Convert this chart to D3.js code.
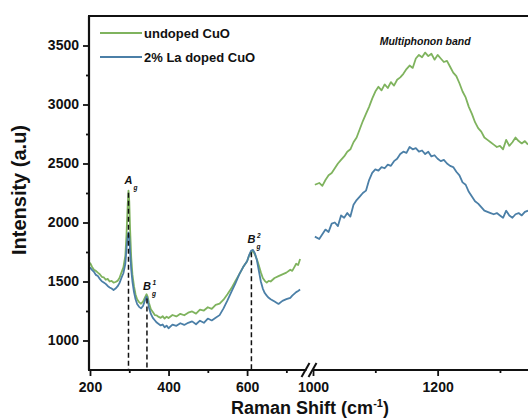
<!DOCTYPE html>
<html>
<head>
<meta charset="utf-8">
<script src="https://cdn.jsdelivr.net/npm/d3@7"></script>
<style>
  body { margin: 0; background: #fff; }
  svg text { font-family: "Liberation Sans", Arial, sans-serif; font-weight: bold; fill: #111; }
</style>
</head>
<body>
<div id="overview"></div>
<script>

// Raman shift (cm-1), part before the axis break
const leftShift = [
  200, 205, 210, 215, 220, 225, 230, 235, 240, 245,
  250, 255, 260, 265, 270, 275, 280, 285, 290, 293,
  296, 298, 300, 302, 305, 308, 312, 316, 320, 325,
  330, 335, 340, 344, 347, 350, 355, 360, 365, 370,
  375, 380, 385, 390, 395, 400, 410, 420, 430, 440,
  450, 460, 470, 480, 490, 500, 510, 520, 530, 540,
  550, 560, 570, 580, 590, 600, 605, 610, 615, 620,
  625, 630, 635, 640, 645, 650, 655, 660, 670, 680,
  690, 700, 710, 715, 720, 725, 730, 735
];
const undopedLeft = [
  1660, 1625, 1600, 1590, 1575, 1562, 1540, 1536, 1515, 1522,
  1500, 1506, 1490, 1496, 1505, 1530, 1575, 1620, 1720, 1900,
  2150, 2270, 2180, 1950, 1700, 1560, 1460, 1390, 1350, 1325,
  1312, 1330, 1365, 1392, 1370, 1320, 1265, 1242, 1216, 1212,
  1200, 1192, 1206, 1186, 1202, 1190, 1216, 1204, 1226, 1214,
  1236, 1246, 1228, 1262, 1254, 1282, 1268, 1302, 1312, 1346,
  1392, 1442, 1502, 1560, 1622, 1672, 1718, 1750, 1758, 1728,
  1688, 1636, 1578, 1530, 1506, 1490, 1505, 1500, 1530, 1545,
  1560, 1575, 1600, 1590, 1620, 1650, 1640, 1690
];
const dopedLeft = [
  1620, 1598, 1582, 1556, 1546, 1522, 1502, 1492, 1480, 1462,
  1450, 1440, 1428, 1440, 1458, 1486, 1530, 1570, 1650, 1780,
  1880, 1915, 1880, 1760, 1600, 1500, 1410, 1350, 1310, 1285,
  1272, 1292, 1340, 1372, 1345, 1280, 1225, 1192, 1172, 1152,
  1140, 1128, 1136, 1112, 1126, 1104, 1134, 1124, 1146, 1132,
  1150, 1162, 1138, 1168, 1150, 1186, 1170, 1192, 1215, 1272,
  1340, 1412, 1482, 1560, 1622, 1672, 1722, 1760, 1768, 1738,
  1680, 1590, 1500, 1440, 1402, 1380, 1362, 1350, 1330, 1310,
  1336, 1350, 1362, 1380, 1395, 1410, 1420, 1432
];

// Raman shift (cm-1), part after the axis break
const rightShift = [
  1003, 1010, 1015, 1020, 1025, 1030, 1035, 1040, 1045, 1050,
  1055, 1060, 1065, 1070, 1075, 1080, 1085, 1090, 1095, 1100,
  1105, 1110, 1115, 1120, 1125, 1130, 1135, 1140, 1145, 1150,
  1155, 1160, 1165, 1170, 1175, 1180, 1185, 1190, 1195, 1200,
  1205, 1210, 1215, 1220, 1225, 1230, 1235, 1240, 1245, 1250,
  1255, 1260, 1265, 1270, 1275, 1280, 1285, 1290, 1295, 1300,
  1305, 1310, 1315, 1320, 1325, 1330, 1335, 1340, 1345
];
const undopedRight = [
  2320, 2335, 2310, 2360, 2400, 2420, 2460, 2500, 2530, 2560,
  2600, 2620, 2680, 2720, 2790, 2860, 2920, 2980, 3050, 3110,
  3150, 3120, 3170, 3140, 3190, 3160, 3210, 3230, 3260, 3300,
  3330, 3310, 3390, 3420, 3400, 3440, 3410, 3430, 3380, 3420,
  3390, 3360, 3370, 3320, 3270, 3240, 3180, 3110, 3060, 2980,
  2920, 2850, 2800, 2770, 2720, 2700, 2680, 2660, 2640, 2650,
  2620, 2700, 2650, 2680, 2720, 2690, 2670, 2690, 2660
];
const dopedRight = [
  1880, 1860, 1900, 1940, 1920, 1990, 2000, 1970, 2060, 2040,
  2080, 2050, 2150, 2190, 2220, 2250, 2270, 2360, 2420, 2450,
  2440, 2470, 2460, 2490, 2480, 2520, 2540, 2580, 2600, 2590,
  2640, 2620, 2630, 2600, 2610, 2580, 2600, 2560, 2570, 2540,
  2520, 2530, 2500, 2480, 2470, 2430, 2400, 2340, 2320, 2260,
  2220, 2180, 2160, 2130, 2100, 2090, 2080, 2070, 2080, 2060,
  2040, 2100, 2060, 2040, 2070, 2080, 2060, 2090, 2100
];

const seriesNames = ['undoped CuO', '2% La doped CuO'];

const yTicks = [1000, 1500, 2000, 2500, 3000, 3500];
const yMinorTicks = [1250, 1750, 2250, 2750, 3250];
const xTicksLeft = [200, 400, 600];
const xMinorLeft = [300, 500, 700];
const xTicksRight = [1000, 1200];
const xMinorRight = [1100, 1300];

// phonon modes marked with dashed lines
const peakShift = [298, 345, 611];
const peakTop = [2270, 1372, 1765];
const peakMain = ['A', 'B', 'B'];
const peakSup = ['', '1', '2'];

RamanChart = {

  svgSize: {width: 528, height: 418},
  frame: {left: 89, top: 16, right: 528, bottom: 370},
  breakAt: {left: 306, right: 313},
  colors: {undoped: '#7fb35e', doped: '#4b7fa7'},

  createSVG: function(){
    this.svg = d3.select('#overview').append('svg')
      .attr('width', this.svgSize.width)
      .attr('height', this.svgSize.height)
      .attr('viewBox', `0 0 ${this.svgSize.width} ${this.svgSize.height}`)
  },

  createScales: function(){
    this.xLeft = d3.scaleLinear().domain([200, 750]).range([this.frame.left + 1, this.breakAt.left]);
    this.xRight = d3.scaleLinear().domain([1000, 1345]).range([this.breakAt.right, this.frame.right]);
    this.yScale = d3.scaleLinear().domain([750, 3750]).range([this.frame.bottom, this.frame.top]);
  },

  drawAxes: function(){
    const f = this.frame;
    const fmt = d3.format('d');

    const yMajor = d3.axisLeft(this.yScale).tickValues(yTicks).tickSize(6).tickPadding(4).tickFormat(fmt);
    const yMinor = d3.axisLeft(this.yScale).tickValues(yMinorTicks).tickSize(3).tickFormat('');
    [yMajor, yMinor].forEach((ax)=>{
      this.svg.append('g').attr('transform', `translate(${f.left}, 0)`).call(ax)
    })

    const bottomAxes = [
      d3.axisBottom(this.xLeft).tickValues(xTicksLeft).tickSize(6).tickPadding(6).tickFormat(fmt),
      d3.axisBottom(this.xLeft).tickValues(xMinorLeft).tickSize(3).tickFormat(''),
      d3.axisBottom(this.xRight).tickValues(xTicksRight).tickSize(6).tickPadding(6).tickFormat(fmt),
      d3.axisBottom(this.xRight).tickValues(xMinorRight).tickSize(3).tickFormat('')
    ];
    bottomAxes.forEach((ax)=>{
      this.svg.append('g').attr('transform', `translate(0, ${f.bottom})`).call(ax)
    })

    this.svg.selectAll('.domain').remove();
    this.svg.selectAll('.tick line').attr('stroke', '#111').attr('stroke-width', 1.8);
    this.svg.selectAll('.tick text').attr('font-size', 14).attr('fill', '#111');

    // frame: left, top and bottom lines
    const frameLines = [
      [f.left, f.top, f.left, f.bottom],
      [f.left - 1, f.top, f.right, f.top],
      [f.left - 1, f.bottom, f.right, f.bottom]
    ];
    this.svg.selectAll('.frameLine')
      .data(frameLines)
      .enter()
      .append('line')
      .attr('class', 'frameLine')
      .attr('x1', (d)=> d[0]).attr('y1', (d)=> d[1])
      .attr('x2', (d)=> d[2]).attr('y2', (d)=> d[3])
      .attr('stroke', '#111')
      .attr('stroke-width', 2.2)
  },

  drawBreak: function(){
    const b = this.frame.bottom;
    const x0 = (this.breakAt.left + this.breakAt.right) / 2;
    this.svg.append('rect')
      .attr('x', x0 - 3).attr('y', b - 3)
      .attr('width', 6).attr('height', 6)
      .attr('fill', '#fff')
    this.svg.selectAll('.breakMark')
      .data([-4, 3])
      .enter()
      .append('line')
      .attr('class', 'breakMark')
      .attr('x1', (d)=> x0 + d - 4).attr('y1', b + 7)
      .attr('x2', (d)=> x0 + d + 4).attr('y2', b - 7)
      .attr('stroke', '#111')
      .attr('stroke-width', 2)
  },

  drawSeries: function(){
    const line = (xs)=> d3.line()
      .x((d)=> xs(d[0]))
      .y((d)=> this.yScale(d[1]));

    const series = [
      {shift: leftShift, values: undopedLeft, scale: this.xLeft, color: this.colors.undoped},
      {shift: rightShift, values: undopedRight, scale: this.xRight, color: this.colors.undoped},
      {shift: leftShift, values: dopedLeft, scale: this.xLeft, color: this.colors.doped},
      {shift: rightShift, values: dopedRight, scale: this.xRight, color: this.colors.doped}
    ];

    series.forEach((s)=>{
      this.svg.append('path')
        .datum(s.shift.map((x, i)=> [x, s.values[i]]))
        .attr('fill', 'none')
        .attr('stroke', s.color)
        .attr('stroke-width', 1.8)
        .attr('stroke-linejoin', 'round')
        .attr('d', line(s.scale))
    })
  },

  drawPeaks: function(){
    peakShift.forEach((shift, i)=>{
      const px = this.xLeft(shift);
      const py = this.yScale(peakTop[i]);

      this.svg.append('line')
        .attr('x1', px).attr('x2', px)
        .attr('y1', py + 2).attr('y2', this.frame.bottom)
        .attr('stroke', '#111')
        .attr('stroke-width', 1.5)
        .attr('stroke-dasharray', '5,3')

      const g = this.svg.append('g')
        .attr('transform', `translate(${px - 4}, ${py - 7})`)
      g.append('text')
        .attr('font-size', 11).attr('font-style', 'italic')
        .text(peakMain[i])
      g.append('text')
        .attr('x', 9).attr('y', 6)
        .attr('font-size', 6.5).attr('font-style', 'italic')
        .text('g')
      if (peakSup[i]) {
        g.append('text')
          .attr('x', 9.5).attr('y', -5)
          .attr('font-size', 6.5).attr('font-style', 'italic')
          .text(peakSup[i])
      }
    })
  },

  drawLegend: function(){
    const colors = [this.colors.undoped, this.colors.doped];
    const items = this.svg.selectAll('.legendItem')
      .data(seriesNames)
      .enter()
      .append('g')
      .attr('class', 'legendItem')
      .attr('transform', (d, i)=> `translate(100, ${33 + i * 24})`)
    items.append('line')
      .attr('x1', 0).attr('x2', 42)
      .attr('stroke', (d, i)=> colors[i])
      .attr('stroke-width', 2)
    items.append('text')
      .attr('x', 44).attr('y', 5)
      .attr('font-size', 13)
      .text((d)=> d)
  },

  drawLabels: function(){
    this.svg.append('text')
      .attr('x', this.xRight(1180)).attr('y', 45)
      .attr('text-anchor', 'middle')
      .attr('font-size', 10.5).attr('font-style', 'italic')
      .text('Multiphonon band')

    const xTitle = this.svg.append('text')
      .attr('x', 310).attr('y', 414)
      .attr('text-anchor', 'middle')
      .attr('font-size', 18)
    xTitle.append('tspan').text('Raman Shift (cm')
    xTitle.append('tspan').attr('font-size', 11).attr('dy', -7).text('-1')
    xTitle.append('tspan').attr('dy', 7).text(')')

    this.svg.append('text')
      .attr('transform', `translate(26, 190) rotate(-90)`)
      .attr('text-anchor', 'middle')
      .attr('font-size', 20)
      .text('Intensity (a.u)')
  },

  loadChart: function(){
    this.createSVG();
    this.createScales();
    this.drawSeries();
    this.drawPeaks();
    this.drawAxes();
    this.drawBreak();
    this.drawLegend();
    this.drawLabels();
  },

}

RamanChart.loadChart();

</script>
</body>
</html>
